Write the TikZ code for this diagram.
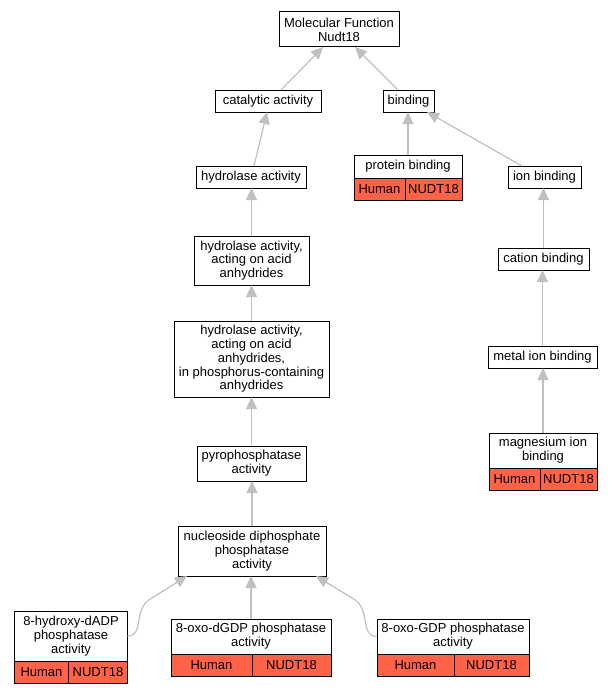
\documentclass[tikz,border=0pt]{standalone}
\usepackage{fontspec}
\setmainfont{Liberation Sans}
\usetikzlibrary{
arrows.meta,
positioning,
}

\definecolor{tomato}{RGB}{255,99,71}
\definecolor{edgegray}{RGB}{192,192,192}

\tikzset{
	term/.style={draw=black, fill=white, line width=1pt, align=center, inner sep=0pt, outer sep=0pt, font=\fontsize{13}{13.8}\selectfont},
	gene/.style={draw=black, fill=tomato, line width=1pt, inner sep=0pt, outer sep=0pt, minimum height=22pt, anchor=north west, font=\fontsize{13}{13.8}\selectfont},
	isa/.style={draw=edgegray, line width=1.2pt, -{Triangle[length=12pt, width=11pt, fill=edgegray]}},
}

\begin{document}
\begin{tikzpicture}[x=1pt, y=-1pt]
			\useasboundingbox (0,0) rectangle (612,693);

			% Terms
			\node[term, minimum width=120pt, minimum height=35pt] (mf) at (339,29.5) {Molecular Function\\Nudt18};
			\node[term, minimum width=106pt, minimum height=22pt] (cat) at (268,101) {catalytic activity};
			\node[term, minimum width=51pt, minimum height=22pt] (bind) at (408.5,101) {binding};
			\node[term, minimum width=110pt, minimum height=22pt] (hyd) at (251,177) {hydrolase activity};
			\node[term, minimum width=108pt, minimum height=23pt] (pb) at (408,166.5) {protein binding};
			\node[term, minimum width=73pt, minimum height=22pt] (ionb) at (544.5,177) {ion binding};
			\node[term, minimum width=115pt, minimum height=49pt] (hacid) at (251.5,260.5) {hydrolase activity,\\acting on acid\\anhydrides};
			\node[term, minimum width=91pt, minimum height=22pt] (cation) at (543.5,259) {cation binding};
			\node[term, minimum width=155pt, minimum height=76pt] (hphos) at (251.5,359) {hydrolase activity,\\acting on acid\\anhydrides,\\in phosphorus-containing\\anhydrides};
			\node[term, minimum width=109pt, minimum height=22pt] (metal) at (542.5,357) {metal ion binding};
			\node[term, minimum width=109pt, minimum height=35pt] (pyro) at (251.5,463.5) {pyrophosphatase\\activity};
			\node[term, minimum width=108pt, minimum height=35pt] (mg) at (543,450.5) {magnesium ion\\binding};
			\node[term, minimum width=148pt, minimum height=50pt] (nuc) at (252,551) {nucleoside diphosphate\\phosphatase\\activity};
			\node[term, minimum width=113pt, minimum height=50pt] (hyx) at (71,636) {8-hydroxy-dADP\\phosphatase\\activity};
			\node[term, minimum width=160pt, minimum height=35pt] (dgdp) at (251,636.5) {8-oxo-dGDP phosphatase\\activity};
			\node[term, minimum width=152pt, minimum height=35pt] (gdp) at (453,636.5) {8-oxo-GDP phosphatase\\activity};

			% Annotations
			\node[gene, minimum width=51pt] (pbh) at (pb.south west) {Human};
			\node[gene, minimum width=57pt] (pbg) at (pbh.north east) {NUDT18};
			\node[gene, minimum width=51pt] (mgh) at (mg.south west) {Human};
			\node[gene, minimum width=57pt] (mgg) at (mgh.north east) {NUDT18};
			\node[gene, minimum width=54pt] (hyxh) at (hyx.south west) {Human};
			\node[gene, minimum width=59pt] (hyxg) at (hyxh.north east) {NUDT18};
			\node[gene, minimum width=81pt] (dgdph) at (dgdp.south west) {Human};
			\node[gene, minimum width=79pt] (dgdpg) at (dgdph.north east) {NUDT18};
			\node[gene, minimum width=77pt] (gdph) at (gdp.south west) {Human};
			\node[gene, minimum width=75pt] (gdpg) at (gdph.north east) {NUDT18};

			% is_a edges
			\draw[isa] ([xshift=13pt]cat.north) -- ([xshift=-16pt]mf.south);
			\draw[isa] ([xshift=-10.5pt]bind.north) -- ([xshift=16pt]mf.south);
			\draw[isa] ([xshift=3pt]hyd.north) -- ([xshift=-1pt]cat.south);
			\draw[isa] (pb.north) -- (pb.north |- bind.south);
			\draw[isa] ([xshift=-22.5pt]ionb.north) -- ([xshift=18.5pt]bind.south);
			\draw[isa] (hacid.north) -- (hacid.north |- hyd.south);
			\draw[isa] (cation.north) -- (cation.north |- ionb.south);
			\draw[isa] (hphos.north) -- (hacid.south);
			\draw[isa] (metal.north) -- (metal.north |- cation.south);
			\draw[isa] (pyro.north) -- (hphos.south);
			\draw[isa] (mg.north) -- (mg.north |- metal.south);
			\draw[isa] (nuc.north) -- (nuc.north |- pyro.south);
			\draw[isa] (dgdp.north) -- (dgdp.north |- nuc.south);
			\draw[isa] (hyx.east) .. controls (145,636) and (132,608) .. (152,598) -- ([xshift=-65pt]nuc.south);
			\draw[isa] (gdp.west) .. controls (359,636.5) and (372,608) .. (352,598) -- ([xshift=64pt]nuc.south);

		\end{tikzpicture}
\end{document}
